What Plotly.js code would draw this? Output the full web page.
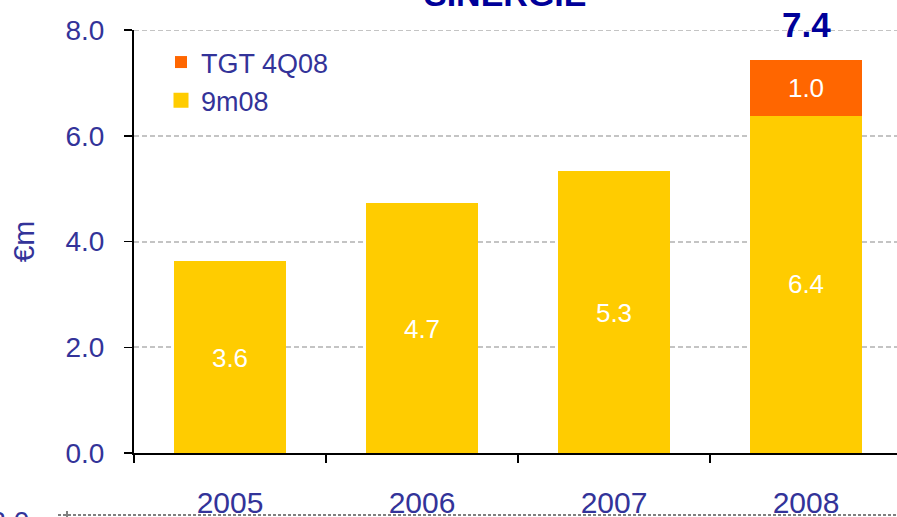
<!DOCTYPE html>
<html>
<head>
<meta charset="utf-8">
<script src="https://cdn.plot.ly/plotly-3.0.1.min.js"></script>
<style>html,body{margin:0;padding:0;overflow:hidden;background:#fff}</style>
</head>
<body>
<div id="chart"></div>
<script>
var years = ['2005', '2006', '2007', '2008'];
var base9m = [3.6, 4.7, 5.3, 6.4];
var target4q = [0, 0, 0, 1.0];
var totals = [null, null, null, 7.4];
var yTicks = [0, 2, 4, 6, 8];
var chartTitle = 'SINERGIE';
var yTitle = '€m';

var txtColor = '#333399';
var fontFam = 'Liberation Sans, Arial, sans-serif';

var traces = [
  {
    type: 'bar', name: '9m08', x: years, y: base9m,
    marker: {color: '#ffcc00', line: {color: '#ffcc00', width: 3}},
    text: base9m.map(function (v) { return v.toFixed(1); }),
    textposition: 'inside', insidetextanchor: 'middle',
    textfont: {color: '#ffffff', size: 26, family: fontFam},
    hoverinfo: 'x+y'
  },
  {
    type: 'bar', name: 'TGT 4Q08', x: years, y: target4q,
    marker: {color: '#ff6600', line: {color: '#ff6600', width: target4q.map(function (v) { return v ? 3 : 0; })}},
    text: target4q.map(function (v) { return v ? v.toFixed(1) : ''; }),
    textposition: 'inside', insidetextanchor: 'middle',
    textfont: {color: '#ffffff', size: 26, family: fontFam},
    hoverinfo: 'x+y'
  }
];

var annotations = [];
totals.forEach(function (t, i) {
  if (t == null) return;
  annotations.push({
    x: i, y: t, xref: 'x', yref: 'y', text: '<b>' + t.toFixed(1) + '</b>',
    showarrow: false, xanchor: 'center', yanchor: 'middle', yshift: 37,
    font: {size: 35, color: '#000099', family: fontFam}
  });
});
annotations.push({
  xref: 'paper', yref: 'paper', x: (505 - 134) / 768, y: (453 + 6) / 423,
  text: '<b>' + chartTitle + '</b>', showarrow: false, xanchor: 'center', yanchor: 'middle',
  font: {size: 34, color: '#000099', family: fontFam}
});
annotations.push({
  xref: 'paper', yref: 'paper', x: (31 - 134) / 768, y: (453 - 521) / 423,
  text: '-2.0', showarrow: false, xanchor: 'right', yanchor: 'middle',
  font: {size: 28, color: txtColor, family: fontFam}
});

var shapes = [
  {type: 'line', xref: 'paper', yref: 'y', x0: 0, x1: 1, y0: yTicks[yTicks.length - 1], y1: yTicks[yTicks.length - 1],
   layer: 'below', line: {color: '#c4c4c4', width: 2, dash: '5px,3px'}},
  {type: 'line', xref: 'paper', yref: 'paper',
   x0: (58 - 134) / 768, x1: 1, y0: (453 - 515) / 423, y1: (453 - 515) / 423,
   line: {color: '#000000', width: 1, dash: '3px,2px'}},
  {type: 'line', xref: 'paper', yref: 'paper',
   x0: (67 - 134) / 768, x1: (67 - 134) / 768, y0: (453 - 511) / 423, y1: (453 - 520) / 423,
   line: {color: '#000000', width: 1}}
];

var layout = {
  width: 902, height: 517,
  margin: {l: 134, r: 0, t: 30, b: 64},
  paper_bgcolor: '#ffffff', plot_bgcolor: '#ffffff',
  barmode: 'stack', bargap: 0.43,
  showlegend: true,
  legend: {
    x: (161 - 134) / 768, y: (453 - 38) / 423, xanchor: 'left', yanchor: 'top',
    traceorder: 'reversed', bgcolor: 'rgba(0,0,0,0)',
    font: {size: 27, color: txtColor, family: fontFam}
  },
  xaxis: {
    type: 'category', categoryorder: 'array', categoryarray: years,
    range: [-0.5, years.length - 0.5], autorange: false,
    showline: true, linecolor: '#000000', linewidth: 2,
    ticks: 'outside', tickson: 'boundaries', ticklen: 8, tickcolor: '#000000', tickwidth: 1.5,
    tickangle: 0, ticklabelstandoff: 22,
    tickfont: {size: 30, color: txtColor, family: fontFam},
    showgrid: false
  },
  yaxis: {
    range: [0, 8], autorange: false, tickvals: yTicks, tickformat: '.1f',
    showline: true, linecolor: '#000000', linewidth: 2,
    ticks: 'outside', ticklen: 8, tickcolor: '#000000', tickwidth: 1.5,
    ticklabelstandoff: 14,
    tickfont: {size: 28, color: txtColor, family: fontFam},
    showgrid: true, gridcolor: '#c4c4c4', gridwidth: 2, griddash: '5px,3px',
    zeroline: false,
    title: {text: yTitle, standoff: 22, font: {size: 30, color: txtColor, family: fontFam}}
  },
  annotations: annotations,
  shapes: shapes
};

Plotly.newPlot('chart', traces, layout, {displayModeBar: false, staticPlot: true});
</script>
</body>
</html>
